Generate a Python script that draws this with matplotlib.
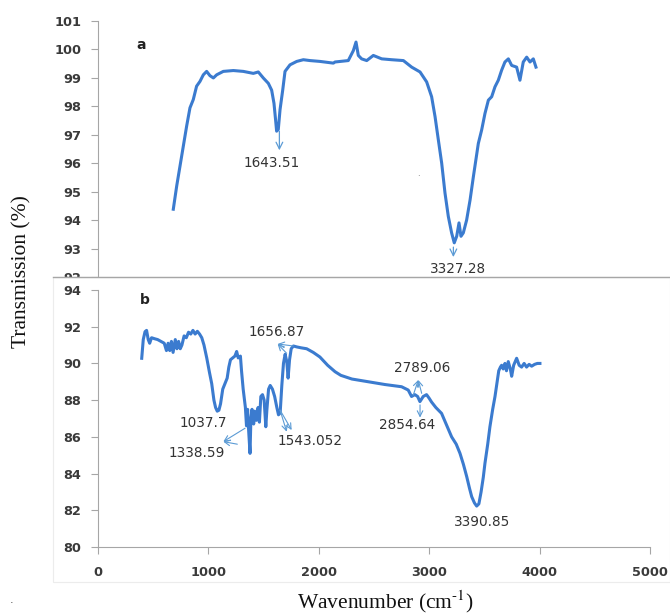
import matplotlib
matplotlib.use("Agg")
import matplotlib.pyplot as plt
from matplotlib.patches import Rectangle
from matplotlib.lines import Line2D

# ---------------- data ----------------
wave_a = [682, 713, 743, 773, 803, 833, 863, 893, 924, 954, 984, 1014, 1045, 1075,
          1135, 1226, 1316, 1407, 1452, 1497, 1543, 1573, 1594, 1609, 1618, 1633,
          1649, 1673, 1694, 1739, 1800, 1860, 1920, 2011, 2132, 2147, 2267, 2313,
          2337, 2358, 2388, 2434, 2494, 2570, 2660, 2766, 2841, 2917, 2977, 3022,
          3053, 3083, 3113, 3143, 3173, 3203, 3227, 3249, 3270, 3288, 3309, 3339,
          3370, 3400, 3445, 3475, 3505, 3536, 3566, 3596, 3626, 3656, 3686, 3717,
          3747, 3792, 3822, 3852, 3883, 3913, 3943, 3967]
trans_a = [94.38, 95.2, 95.9, 96.6, 97.3, 97.94, 98.23, 98.7, 98.87, 99.1, 99.22, 99.07,
           98.99, 99.1, 99.22, 99.25, 99.22, 99.15, 99.2, 98.99, 98.8, 98.56, 98.1, 97.5,
           97.12, 97.18, 97.88, 98.56, 99.22, 99.45, 99.57, 99.63, 99.6, 99.57, 99.51,
           99.55, 99.6, 99.95, 100.25, 99.78, 99.66, 99.6, 99.78, 99.66, 99.63, 99.6,
           99.37, 99.2, 98.85, 98.33, 97.63, 96.81, 96.0, 94.95, 94.13, 93.55, 93.2,
           93.43, 93.9, 93.43, 93.55, 94.0, 94.7, 95.52, 96.69, 97.16, 97.74, 98.21,
           98.33, 98.68, 98.91, 99.26, 99.55, 99.66, 99.43, 99.37, 98.91, 99.55, 99.72,
           99.55, 99.66, 99.37]

wave_b = [396, 410, 426, 440, 455, 468, 485, 510, 540, 570, 600, 620, 635, 650, 665,
          680, 700, 715, 730, 745, 760, 780, 800, 820, 840, 860, 880, 900, 920, 940,
          960, 985, 1010, 1030, 1050, 1065, 1080, 1095, 1110, 1130, 1150, 1170, 1185,
          1200, 1220, 1240, 1256, 1270, 1290, 1300, 1315, 1335, 1345, 1355, 1365, 1377,
          1385, 1395, 1410, 1420, 1435, 1450, 1462, 1475, 1490, 1505, 1520, 1530, 1545,
          1560, 1580, 1600, 1620, 1635, 1650, 1665, 1680, 1695, 1710, 1722, 1735, 1750,
          1770, 1800, 1840, 1890, 1950, 2010, 2080, 2147, 2200, 2300, 2450, 2600, 2750,
          2810, 2840, 2870, 2895, 2916, 2946, 2976, 3000, 3021, 3060, 3112, 3160, 3203,
          3245, 3279, 3310, 3340, 3365, 3385, 3410, 3430, 3450, 3470, 3490, 3505, 3530,
          3550, 3575, 3596, 3615, 3630, 3645, 3656, 3670, 3686, 3700, 3716, 3735, 3747,
          3765, 3792, 3815, 3837, 3860, 3882, 3905, 3928, 3955, 3980, 4003]
trans_b = [90.28, 91.3, 91.73, 91.8, 91.3, 91.1, 91.4, 91.35, 91.3, 91.2, 91.1, 90.7,
           91.1, 90.7, 91.2, 90.6, 91.3, 90.8, 91.2, 90.8, 91.0, 91.5, 91.4, 91.7, 91.6,
           91.8, 91.6, 91.75, 91.6, 91.4, 91.0, 90.3, 89.5, 88.9, 88.0, 87.6, 87.4, 87.45,
           87.8, 88.6, 88.9, 89.2, 89.8, 90.2, 90.3, 90.4, 90.65, 90.3, 90.4, 89.6, 88.6,
           87.6, 86.6, 87.5, 86.3, 85.1, 87.0, 87.5, 86.7, 87.4, 86.9, 87.6, 86.8, 88.2,
           88.3, 88.0, 86.55, 87.5, 88.6, 88.8, 88.6, 88.2, 87.6, 87.2, 87.3, 88.8, 90.0,
           90.5, 90.1, 89.2, 90.2, 90.8, 90.95, 90.9, 90.85, 90.8, 90.6, 90.35, 89.9,
           89.55, 89.35, 89.15, 89.0, 88.85, 88.73, 88.55, 88.2, 88.3, 88.2, 87.92, 88.2,
           88.3, 88.1, 87.9, 87.6, 87.28, 86.6, 86.0, 85.6, 85.1, 84.5, 83.83, 83.2,
           82.74, 82.4, 82.23, 82.35, 83.0, 83.8, 84.56, 85.6, 86.55, 87.5, 88.2, 89.0,
           89.6, 89.8, 89.9, 89.7, 90.0, 89.6, 90.1, 89.7, 89.3, 89.9, 90.28, 89.9, 89.8,
           90.0, 89.8, 89.95, 89.85, 89.95, 90.0, 90.0]

x_ticks = [0, 1000, 2000, 3000, 4000, 5000]
y_ticks_a = [92, 93, 94, 95, 96, 97, 98, 99, 100, 101]
y_ticks_b = [80, 82, 84, 86, 88, 90, 92, 94]

# annotations: (text, text_x, text_y)
labels_a = [("1643.51", 1573, 96.0), ("3327.28", 3264, 92.28)]
arrows_a = [((1643, 97.12), (1643, 96.45)), ((3219, 93.05), (3219, 92.7))]
labels_b = [("1656.87", 1618, 91.73), ("1037.7", 954, 86.74), ("1338.59", 894, 85.1),
            ("1543.052", 1920, 85.8), ("2789.06", 2932, 89.73), ("2854.64", 2796, 86.65),
            ("3390.85", 3478, 81.36)]
# (tail, head)
arrows_b = [((1709, 90.55), (1627, 91.06)), ((1769, 90.95), (1627, 91.06)),
            ((1332, 86.47), (1135, 85.74)), ((1262, 85.6), (1135, 85.74)),
            ((1649, 87.46), (1709, 86.28)), ((1649, 87.46), (1754, 86.37)),
            ((2856, 88.28), (2901, 89.1)), ((2932, 88.37), (2901, 89.1)),
            ((2917, 87.74), (2917, 87.05))]

# ---------------- style ----------------
W, H = 670, 614
line_c = "#3b7bcf"
axis_c = "#a6a6a6"
tick_c = "#3a3a3a"
arrow_c = "#5b9bd5"
tick_font = dict(family="DejaVu Sans", size=9.3, weight="bold", color=tick_c)
ann_font = dict(family="DejaVu Sans", size=9.8, color="#333333")

fig = plt.figure(figsize=(W / 100, H / 100), dpi=100)

def fx(px):
    return px / W

def fy(py):
    return 1 - py / H

ax_a = fig.add_axes([fx(98), fy(277), fx(650) - fx(98), fy(20.7) - fy(277)])
ax_b = fig.add_axes([fx(98), fy(547), fx(650) - fx(98), fy(290) - fy(547)])
ax_a.set_zorder(0)
ax_b.set_zorder(2)
ax_b.patch.set_alpha(0)

# panel a
ax_a.plot(wave_a, trans_a, color=line_c, lw=2.2, solid_joinstyle="round")
ax_a.set_xlim(0, 5000)
ax_a.set_ylim(92, 101)
ax_a.set_yticks(y_ticks_a)
ax_a.set_yticklabels([str(v) for v in y_ticks_a], **tick_font)
ax_a.set_xticks([])
for s in ["top", "right", "bottom"]:
    ax_a.spines[s].set_visible(False)
ax_a.spines["left"].set_color(axis_c)
ax_a.tick_params(axis="y", direction="out", length=5, color=axis_c, pad=7)
ax_a.text(390, 100.15, "a", fontsize=10, fontweight="bold", family="DejaVu Sans",
          ha="center", va="center", color="#222222")
for t, x, y in labels_a:
    ax_a.text(x, y, t, ha="center", va="center", **ann_font)
for (t0, t1) in arrows_a:
    ax_a.annotate("", xy=t1, xytext=t0,
                  arrowprops=dict(arrowstyle="->", color=arrow_c, lw=0.9,
                                  shrinkA=0, shrinkB=0, mutation_scale=12))
ax_a.text(2900, 95.55, ".", fontsize=6, color="#666666", ha="center")

# white chart area of panel b covering panel a's bottom
fig.patches.append(Rectangle((fx(53), fy(582)), 1 - fx(53), fy(277) - fy(582),
                             transform=fig.transFigure, facecolor="white",
                             edgecolor="#ececec", lw=0.8, zorder=1))
fig.lines.append(Line2D([fx(53), 1], [fy(277), fy(277)], transform=fig.transFigure,
                        color=axis_c, lw=1.0, zorder=3))

# panel b
ax_b.plot(wave_b, trans_b, color=line_c, lw=2.2, solid_joinstyle="round")
ax_b.set_xlim(0, 5000)
ax_b.set_ylim(80, 94)
ax_b.set_yticks(y_ticks_b)
ax_b.set_yticklabels([str(v) for v in y_ticks_b], **tick_font)
ax_b.set_xticks(x_ticks)
ax_b.set_xticklabels([str(v) for v in x_ticks], **tick_font)
for s in ["top", "right"]:
    ax_b.spines[s].set_visible(False)
ax_b.spines["left"].set_color(axis_c)
ax_b.spines["bottom"].set_color(axis_c)
ax_b.tick_params(axis="y", direction="out", length=5, color=axis_c, pad=7)
ax_b.tick_params(axis="x", direction="out", length=5, color=axis_c, pad=9)
ax_b.text(426, 93.45, "b", fontsize=10, fontweight="bold", family="DejaVu Sans",
          ha="center", va="center", color="#222222")
for t, x, y in labels_b:
    ax_b.text(x, y, t, ha="center", va="center", **ann_font)
for (t0, t1) in arrows_b:
    ax_b.annotate("", xy=t1, xytext=t0,
                  arrowprops=dict(arrowstyle="->", color=arrow_c, lw=0.8,
                                  shrinkA=0, shrinkB=0, mutation_scale=10))

# axis titles
fig.text(fx(22), fy(272), "Transmission (%)", rotation=90, ha="center", va="center",
         family="Liberation Serif", fontsize=15.5, color="#111111")
fig.text(fx(385), fy(602), "Wavenumber (cm$^{\\text{-1}}$)", ha="center", va="center",
         family="Liberation Serif", fontsize=15.5, color="#111111",
         math_fontfamily="stix")
fig.text(fx(12), fy(600), ".", ha="center", va="center", fontsize=8, color="#444444")

fig.savefig("out.png", dpi=100)
